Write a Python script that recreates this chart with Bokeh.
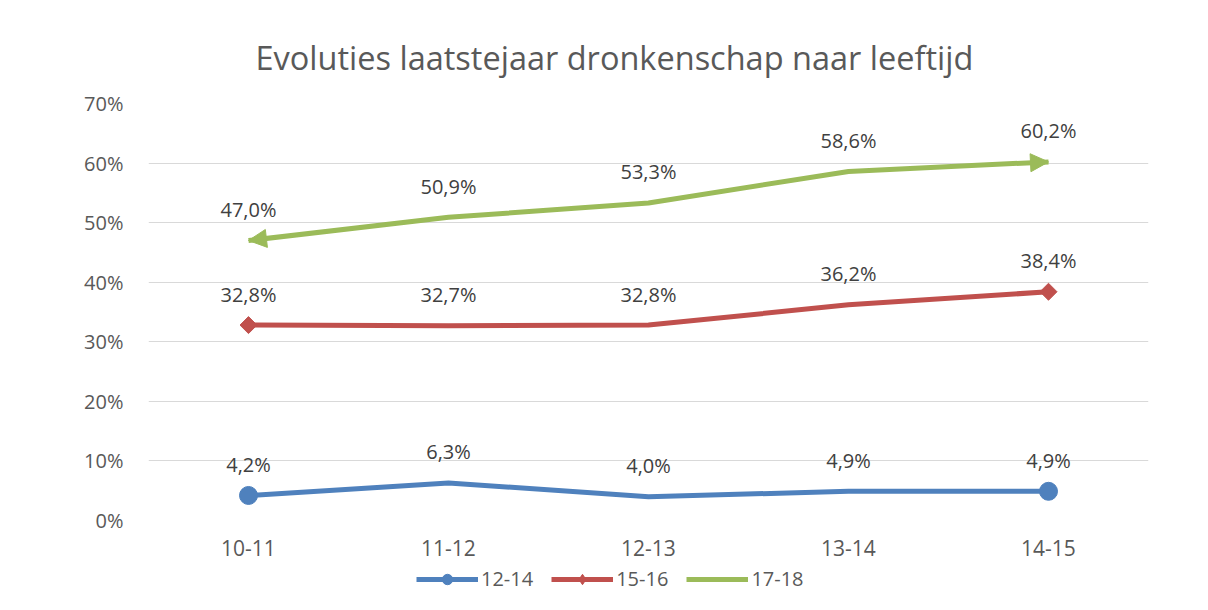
import numpy as np
from bokeh.plotting import figure
from bokeh.layouts import column
from bokeh.models import (FixedTicker, NumeralTickFormatter, Legend, LegendItem,
                          Arrow, NormalHead, Range1d, ColumnDataSource)
from bokeh.embed import file_html
from bokeh.resources import INLINE

# ---------------- data ----------------
categories = ["10-11", "11-12", "12-13", "13-14", "14-15"]
series_names = ["12-14", "15-16", "17-18"]
vals_12_14 = [4.2, 6.3, 4.0, 4.9, 4.9]
vals_15_16 = [32.8, 32.7, 32.8, 36.2, 38.4]
vals_17_18 = [47.0, 50.9, 53.3, 58.6, 60.2]
y_ticks = [0, 10, 20, 30, 40, 50, 60, 70]
title_text = "Evoluties laatstejaar dronkenschap naar leeftijd"

# ---------------- style ----------------
FONT = "Open Sans"
C_BLUE = "#4F81BD"
C_RED = "#C0504D"
C_GREEN = "#9BBB59"
GRID = "#d9d9d9"
TXT = "#595959"
LBL = "#404040"

xs = list(range(len(categories)))

p = figure(width=1200, height=564, output_backend="svg", toolbar_location=None,
           x_range=Range1d(-0.5, len(categories) - 0.5),
           y_range=Range1d(0, max(y_ticks) / 100),
           min_border_left=148, min_border_right=52,
           min_border_top=103, min_border_bottom=44)
p.outline_line_color = None
p.background_fill_color = "white"
p.border_fill_color = "white"

# title
p.title.text = title_text
p.title.align = "left"
p.title.text_font = FONT
p.title.text_font_size = "32.5px"
p.title.text_font_style = "normal"
p.title.text_color = TXT
p.title.offset = 107
p.title.standoff = 48

# axes
p.xaxis.ticker = FixedTicker(ticks=xs)
p.xaxis.major_label_overrides = {i: c for i, c in zip(xs, categories)}
p.yaxis.ticker = FixedTicker(ticks=[t / 100 for t in y_ticks])
p.yaxis.formatter = NumeralTickFormatter(format="0%")
for ax in (p.xaxis[0], p.yaxis[0]):
    ax.axis_line_color = None
    ax.major_tick_line_color = None
    ax.minor_tick_line_color = None
    ax.major_label_text_font = FONT
    ax.major_label_text_color = TXT
p.xaxis.major_label_text_font_size = "21px"
p.yaxis.major_label_text_font_size = "20px"
p.xaxis.major_label_standoff = 13
p.yaxis.major_label_standoff = 19
p.xgrid.visible = False
p.ygrid.ticker = FixedTicker(ticks=[t / 100 for t in y_ticks])
p.ygrid.grid_line_color = GRID
p.ygrid.grid_line_width = 1

def fmt(v):
    return f"{v:.1f}".replace(".", ",") + "%"

# legend strip (below the chart); its frame aligns with the chart frame
lp = figure(width=1200, height=44, output_backend="svg", toolbar_location=None,
            x_range=Range1d(0, 1), y_range=Range1d(0, 1),
            x_axis_location=None, y_axis_location=None,
            min_border_left=148, min_border_right=52, min_border_top=0, min_border_bottom=0)
lp.outline_line_color = None
lp.grid.visible = False
lp.border_fill_color = "white"
nan = np.array([np.nan])

legend_items = []
for name, vals, color in zip(series_names, [vals_12_14, vals_15_16, vals_17_18],
                             [C_BLUE, C_RED, C_GREEN]):
    ys = [v / 100 for v in vals]
    src = ColumnDataSource(dict(x=xs, y=ys, label=[fmt(v) for v in vals]))
    p.line("x", "y", source=src, line_color=color, line_width=5, line_join="round")
    ends = ColumnDataSource(dict(x=[xs[0], xs[-1]], y=[ys[0], ys[-1]]))
    lrends = [lp.line(x=nan, y=nan, line_color=color, line_width=5)]
    if name == "12-14":
        p.scatter("x", "y", source=ends, marker="circle", size=18,
                  fill_color=color, line_color=color)
        lrends.append(lp.scatter(x=nan, y=nan, marker="circle", size=18,
                                 fill_color=color, line_color=color))
    elif name == "15-16":
        p.scatter("x", "y", source=ends, marker="square", angle=0.785398,
                  size=12, fill_color=color, line_color=color)
        lrends.append(lp.scatter(x=nan, y=nan, marker="diamond", size=18,
                                 fill_color=color, line_color=color))
    else:
        for (xa, ya, xb, yb) in [(xs[1], ys[1], xs[0], ys[0]),
                                 (xs[-2], ys[-2], xs[-1], ys[-1])]:
            p.add_layout(Arrow(end=NormalHead(size=18, fill_color=color,
                                              line_color=color, line_width=1),
                               x_start=xa, y_start=ya, x_end=xb, y_end=yb,
                               line_alpha=0))
    p.text("x", "y", text="label", source=src, text_font={"value": FONT},
           text_font_size="20px", text_color=LBL, text_align="center",
           text_baseline="middle", y_offset=-31)
    legend_items.append(LegendItem(label=name, renderers=lrends))

legend = Legend(items=legend_items, orientation="horizontal", location=(268, 16))
legend.border_line_color = None
legend.background_fill_alpha = 0
legend.label_text_font = FONT
legend.label_text_font_size = "20px"
legend.label_text_color = TXT
legend.glyph_width = 62
legend.glyph_height = 26
legend.label_standoff = 3
legend.spacing = 18
legend.padding = 0
legend.margin = 0
lp.add_layout(legend, "center")

layout = column(p, lp, spacing=0)
open("out.html", "w").write(file_html(layout, INLINE))
